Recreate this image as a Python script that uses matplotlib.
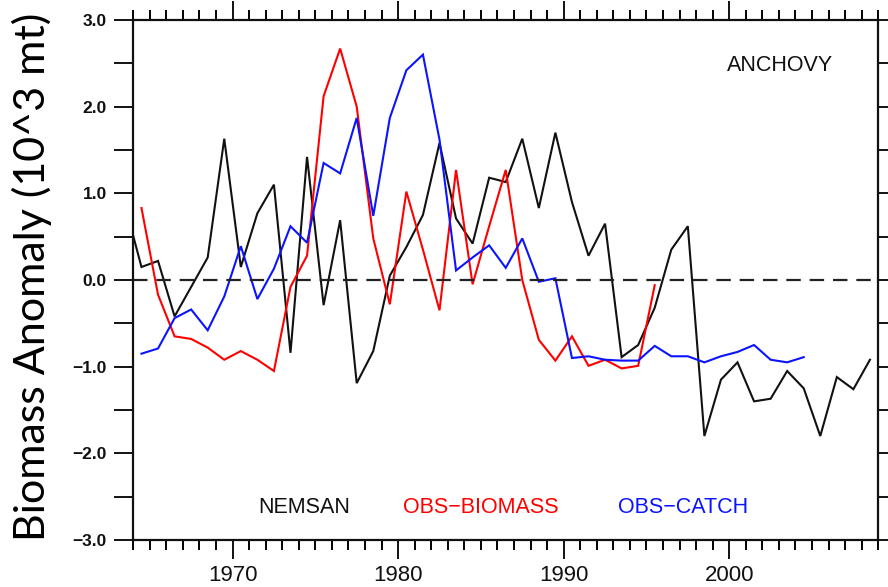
import numpy as np
import matplotlib
matplotlib.use('Agg')
import matplotlib.pyplot as plt
from matplotlib.ticker import MultipleLocator, FixedLocator, FuncFormatter

# ---- data (annual values, plotted at mid-year) ----
nemsan_years = list(range(1963, 2009))
nemsan = [0.87, 0.15, 0.22, -0.42, -0.08, 0.26, 1.63, 0.15, 0.77, 1.10,
          -0.84, 1.42, -0.29, 0.69, -1.19, -0.82, 0.05, 0.38, 0.75, 1.58,
          0.71, 0.42, 1.18, 1.13, 1.63, 0.83, 1.70, 0.90, 0.28, 0.65,
          -0.89, -0.75, -0.32, 0.35, 0.62, -1.80, -1.15, -0.95, -1.40, -1.37,
          -1.05, -1.25, -1.80, -1.12, -1.26, -0.92]

biomass_years = list(range(1964, 1996))
obs_biomass = [0.83, -0.17, -0.65, -0.68, -0.78, -0.92, -0.82, -0.92, -1.05, -0.08,
               0.28, 2.12, 2.67, 2.00, 0.48, -0.28, 1.02, 0.35, -0.35, 1.27,
               -0.05, 0.62, 1.27, 0.00, -0.69, -0.93, -0.65, -0.99, -0.92, -1.02,
               -0.99, -0.06]

catch_years = list(range(1964, 2005))
obs_catch = [-0.85, -0.79, -0.44, -0.34, -0.58, -0.19, 0.39, -0.22, 0.13, 0.62,
             0.43, 1.35, 1.23, 1.87, 0.74, 1.87, 2.42, 2.60, 1.62, 0.11,
             0.26, 0.40, 0.14, 0.48, -0.02, 0.02, -0.90, -0.88, -0.92, -0.93,
             -0.93, -0.76, -0.88, -0.88, -0.95, -0.88, -0.83, -0.75, -0.92, -0.95,
             -0.89]

series_names = ["NEMSAN", "OBS\u2212BIOMASS", "OBS\u2212CATCH"]
series_colors = ["#111111", "#ff0000", "#0a14ff"]
x_major = [1970, 1980, 1990, 2000]

# ---- figure ----
fig = plt.figure(figsize=(8.88, 5.87), dpi=100)
ax = fig.add_axes([0.150, 0.080, 0.839, 0.886])

mid = 0.5
for yrs, vals, col in [(nemsan_years, nemsan, series_colors[0]),
                       (biomass_years, obs_biomass, series_colors[1]),
                       (catch_years, obs_catch, series_colors[2])]:
    ax.plot(np.array(yrs) + mid, vals, color=col, lw=1.5, solid_joinstyle='miter')

ax.axhline(0.0, color='#222222', lw=1.6, dashes=(6.5, 4))

ax.set_xlim(1964, 2009)
ax.set_ylim(-3, 3)

ax.xaxis.set_major_locator(FixedLocator(x_major))
ax.xaxis.set_minor_locator(MultipleLocator(1))
ax.yaxis.set_major_locator(MultipleLocator(0.5))

def yfmt(v, pos):
    if abs(v - round(v)) < 1e-6:
        return f"{v:.1f}".replace('-', '\u2212')
    return ""
ax.yaxis.set_major_formatter(FuncFormatter(yfmt))

ax.tick_params(axis='x', which='major', direction='out', length=14, width=1.4,
               top=True, bottom=True, pad=4, labelsize=16, colors='#111111')
ax.tick_params(axis='x', which='minor', direction='out', length=7, width=1.4,
               top=True, bottom=True)
ax.tick_params(axis='y', which='major', direction='out', length=14, width=1.4,
               left=True, right=True, pad=5, labelsize=12.5, colors='#111111')
for lab in ax.get_xticklabels():
    lab.set_fontfamily('Liberation Sans')
for lab in ax.get_yticklabels():
    lab.set_fontfamily('Liberation Sans')
    lab.set_fontweight('bold')

for sp in ax.spines.values():
    sp.set_linewidth(1.6)
    sp.set_color('#111111')

# legend-like labels
txt_kw = dict(fontsize=15.5, family='Liberation Sans', ha='center', va='center',
              transform=ax.transAxes)
ax.text(0.229, 0.0635, series_names[0], color=series_colors[0], **txt_kw)
ax.text(0.4666, 0.0635, series_names[1], color=series_colors[1], **txt_kw)
ax.text(0.7375, 0.0635, series_names[2], color=series_colors[2], **txt_kw)
ax.text(0.868, 0.913, "ANCHOVY", color='#111111', **txt_kw)

fig.text(0.036, 0.528, "Biomass Anomaly (10^3 mt)", rotation=90, ha='center',
         va='center', fontsize=31, family='Lato', color='black')

fig.savefig('out.png', dpi=100)
